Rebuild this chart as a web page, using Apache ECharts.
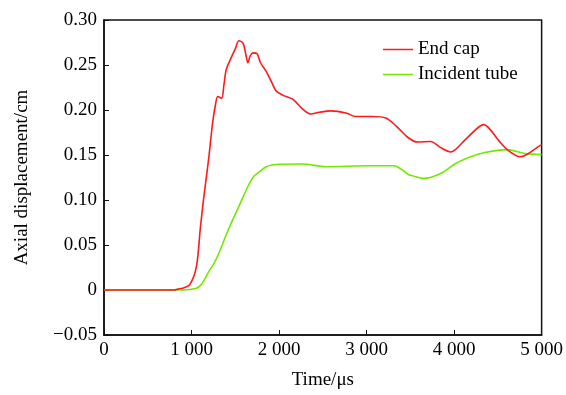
<!DOCTYPE html>
<html>
<head>
<meta charset="utf-8">
<script src="https://cdn.jsdelivr.net/npm/echarts@6/dist/echarts.min.js"></script>
<style>
  html, body { margin: 0; padding: 0; background: #fff; }
  #echart { width: 566px; height: 395px; }
</style>
</head>
<body>
<div id="echart"></div>
<script>
// time axis (µs) and displacement (cm)
const timeEndCap = [0, 800, 843, 900, 980, 1056, 1101, 1139, 1196, 1240, 1272, 1300, 1345, 1370, 1397, 1443, 1500, 1541, 1587, 1620, 1644, 1670, 1701, 1750, 1788, 1853, 1910, 1967, 2042, 2156, 2270, 2365, 2460, 2593, 2764, 2878, 3067, 3220, 3333, 3466, 3580, 3732, 3850, 3960, 4137, 4339, 4510, 4605, 4757, 4985, 5000];
const endCap = [0, 0, 0.001, 0.002, 0.006, 0.026, 0.069, 0.102, 0.146, 0.185, 0.205, 0.215, 0.213, 0.228, 0.245, 0.256, 0.268, 0.277, 0.2745, 0.262, 0.2525, 0.26, 0.2635, 0.2625, 0.2525, 0.243, 0.232, 0.221, 0.2165, 0.212, 0.201, 0.1955, 0.1975, 0.199, 0.1967, 0.1927, 0.1927, 0.191, 0.1827, 0.17, 0.1644, 0.165, 0.158, 0.1534, 0.168, 0.1838, 0.166, 0.156, 0.148, 0.1607, 0.161];

const timeIncident = [0, 900, 1056, 1110, 1150, 1200, 1260, 1330, 1397, 1470, 1549, 1644, 1710, 1777, 1853, 1930, 2005, 2270, 2536, 3030, 3314, 3400, 3485, 3523, 3656, 3846, 4017, 4188, 4339, 4605, 4814, 5000];
const incident = [0, 0, 0.002, 0.006, 0.012, 0.021, 0.03, 0.045, 0.0616, 0.078, 0.0946, 0.115, 0.126, 0.1314, 0.137, 0.139, 0.1398, 0.14, 0.137, 0.138, 0.138, 0.134, 0.128, 0.127, 0.124, 0.1295, 0.1405, 0.148, 0.1526, 0.156, 0.1515, 0.1504];

const seriesNames = ["End cap", "Incident tube"];
const fontFamily = "'Liberation Serif', 'Times New Roman', serif";

function pairs(xs, ys) {
  return xs.map((x, i) => [x, ys[i]]);
}

const option = {
  animation: false,
  textStyle: { fontFamily: fontFamily, color: "#000" },
  grid: {
    left: 104,
    top: 20,
    width: 439,
    height: 318,
    show: true,
    borderColor: "#111",
    borderWidth: 1.5,
  },
  legend: {
    orient: "vertical",
    left: 378,
    top: 35,
    icon: "rect",
    itemWidth: 30,
    itemHeight: 1.5,
    itemGap: 6,
    textStyle: { fontFamily: fontFamily, fontSize: 19, color: "#000" },
    data: seriesNames,
  },
  xAxis: {
    type: "value",
    min: 0,
    max: 5000,
    interval: 1000,
    name: "Time/\u03bcs",
    nameLocation: "middle",
    nameGap: 36,
    nameTextStyle: { fontFamily: fontFamily, fontSize: 19, color: "#000" },
    splitLine: { show: false },
    axisLine: { show: true, onZero: false, lineStyle: { color: "#111", width: 1.5 } },
    axisTick: { inside: true, length: 5, lineStyle: { color: "#111" } },
    axisLabel: {
      fontFamily: fontFamily,
      fontSize: 19,
      color: "#000",
      margin: 6,
      formatter: (v) => (v >= 1000 ? Math.floor(v / 1000) + " 000" : String(v)),
    },
  },
  yAxis: {
    type: "value",
    min: -0.05,
    max: 0.3,
    interval: 0.05,
    name: "Axial displacement/cm",
    nameLocation: "middle",
    nameGap: 72,
    nameTextStyle: { fontFamily: fontFamily, fontSize: 19, color: "#000" },
    splitLine: { show: false },
    axisLine: { show: true, onZero: false, lineStyle: { color: "#111", width: 1.5 } },
    axisTick: { inside: true, length: 5, lineStyle: { color: "#111" } },
    axisLabel: {
      fontFamily: fontFamily,
      fontSize: 19,
      color: "#000",
      margin: 7,
      formatter: (v) => {
        if (Math.abs(v) < 1e-9) return "0";
        if (v < 0) return "\u2212" + Math.abs(v).toFixed(2);
        return v.toFixed(2);
      },
    },
  },
  series: [
    {
      name: seriesNames[0],
      type: "line",
      data: pairs(timeEndCap, endCap),
      smooth: 0.3,
      symbol: "none",
      color: "#ff1a1a",
      lineStyle: { width: 1.6 },
      z: 3,
    },
    {
      name: seriesNames[1],
      type: "line",
      data: pairs(timeIncident, incident),
      smooth: 0.3,
      symbol: "none",
      color: "#74e800",
      lineStyle: { width: 1.6 },
      z: 2,
    },
  ],
};

const chart = echarts.init(document.getElementById("echart"));
chart.setOption(option);
</script>
</body>
</html>
